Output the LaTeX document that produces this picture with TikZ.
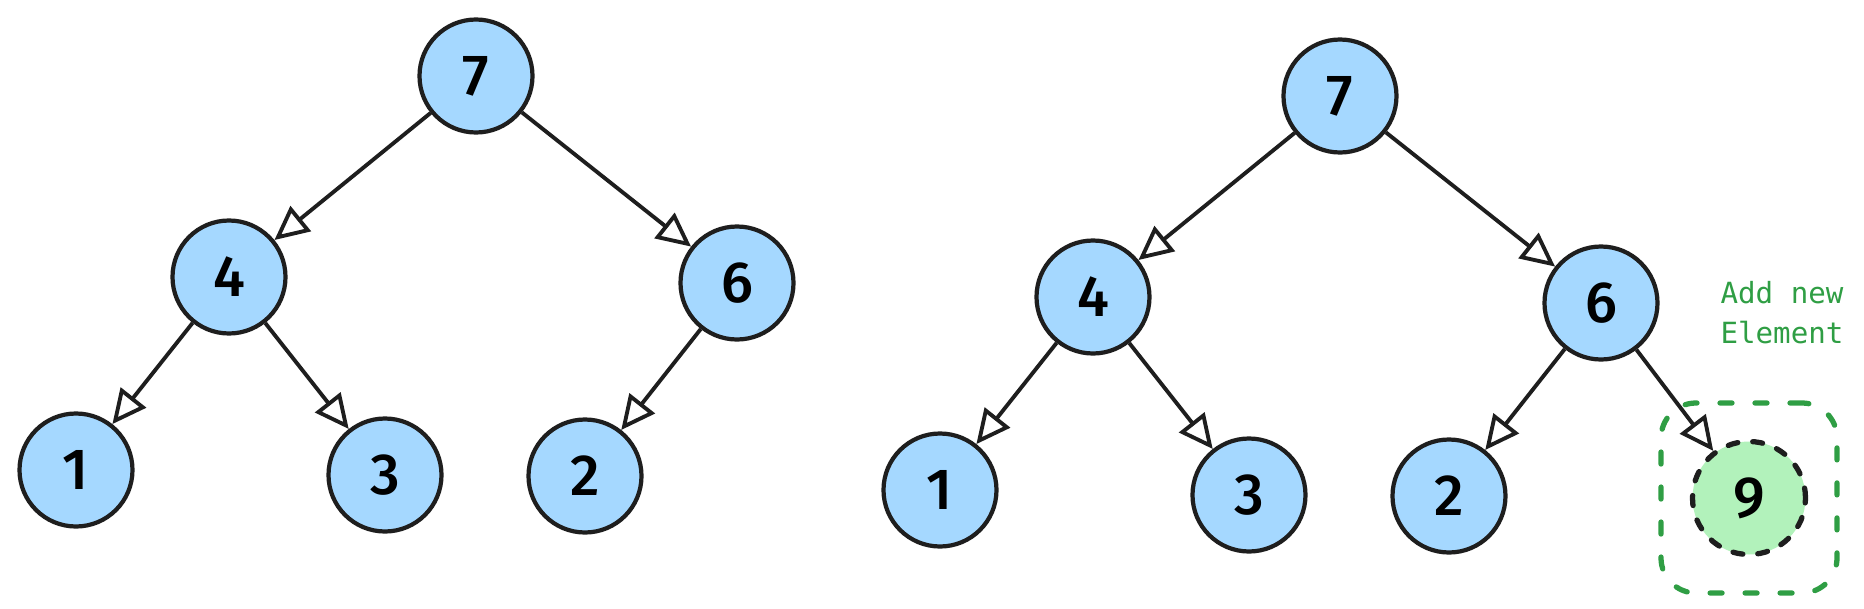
\documentclass[tikz,border=0pt]{standalone}
\usepackage{fontspec}
\setmainfont{Fira Sans}[UprightFont=* Medium]
\newfontfamily\notefont{DejaVu Sans Mono}
\usetikzlibrary{arrows.meta, positioning}
\definecolor{nodeblue}{HTML}{A5D8FF}
\definecolor{nodegreen}{HTML}{B2F2BB}
\definecolor{notegreen}{HTML}{2F9E44}
\definecolor{inkblack}{HTML}{1E1E1E}
\tikzstyle{heapnode} = [circle, minimum size=1.13cm, inner sep=0pt, draw=inkblack, line width=1.2pt, fill=nodeblue, font=\fontsize{16.5}{19}\selectfont]
\tikzstyle{newnode} = [heapnode, fill=nodegreen, line width=1.5pt, line cap=round, dash pattern=on 0.1cm off 0.15cm]
\tikzstyle{newbox} = [rectangle, rounded corners=0.35cm, draw=notegreen, line width=1.5pt, line cap=round, dash pattern=on 0.12cm off 0.23cm, minimum width=1.76cm, minimum height=1.9cm]
\tikzstyle{note} = [text=notegreen, align=left, inner sep=0pt, font=\notefont\fontsize{8.3}{11.3}\selectfont]
\tikzstyle{arrow} = [line width=1.1pt, draw=inkblack, -{Triangle[open, length=0.34cm, width=0.32cm]}]

\begin{document}
\begin{tikzpicture}[on grid]

    \useasboundingbox (0,0) rectangle (18.64,-6.09);

    % Left heap
    \node (l7) [heapnode] at (4.76,-0.76) {7};
    \node (l4) [heapnode, below left=2.01 and 2.47 of l7] {4};
    \node (l6) [heapnode, below right=2.07 and 2.61 of l7] {6};
    \node (l1) [heapnode, below left=1.93 and 1.53 of l4] {1};
    \node (l3) [heapnode, below right=1.98 and 1.56 of l4] {3};
    \node (l2) [heapnode, below left=1.93 and 1.52 of l6] {2};

    \draw [arrow] (l7) -- (l4);
    \draw [arrow] (l7) -- (l6);
    \draw [arrow] (l4) -- (l1);
    \draw [arrow] (l4) -- (l3);
    \draw [arrow] (l6) -- (l2);

    % Right heap, with the new element
    \node (r7) [heapnode] at (13.40,-0.96) {7};
    \node (r4) [heapnode, below left=2.01 and 2.47 of r7] {4};
    \node (r6) [heapnode, below right=2.07 and 2.61 of r7] {6};
    \node (r1) [heapnode, below left=1.93 and 1.53 of r4] {1};
    \node (r3) [heapnode, below right=1.98 and 1.56 of r4] {3};
    \node (r2) [heapnode, below left=1.93 and 1.52 of r6] {2};
    \node (r9) [newnode, below right=1.95 and 1.48 of r6] {9};

    \draw [arrow] (r7) -- (r4);
    \draw [arrow] (r7) -- (r6);
    \draw [arrow] (r4) -- (r1);
    \draw [arrow] (r4) -- (r3);
    \draw [arrow] (r6) -- (r2);
    \draw [arrow] (r6) -- (r9);

    % Marker round the new element
    \node (addbox) [newbox] at (r9) {};
    \node (addnote) [note, above=0.56 of addbox.north, xshift=0.33cm] {Add new\\Element};

\end{tikzpicture}
\end{document}
